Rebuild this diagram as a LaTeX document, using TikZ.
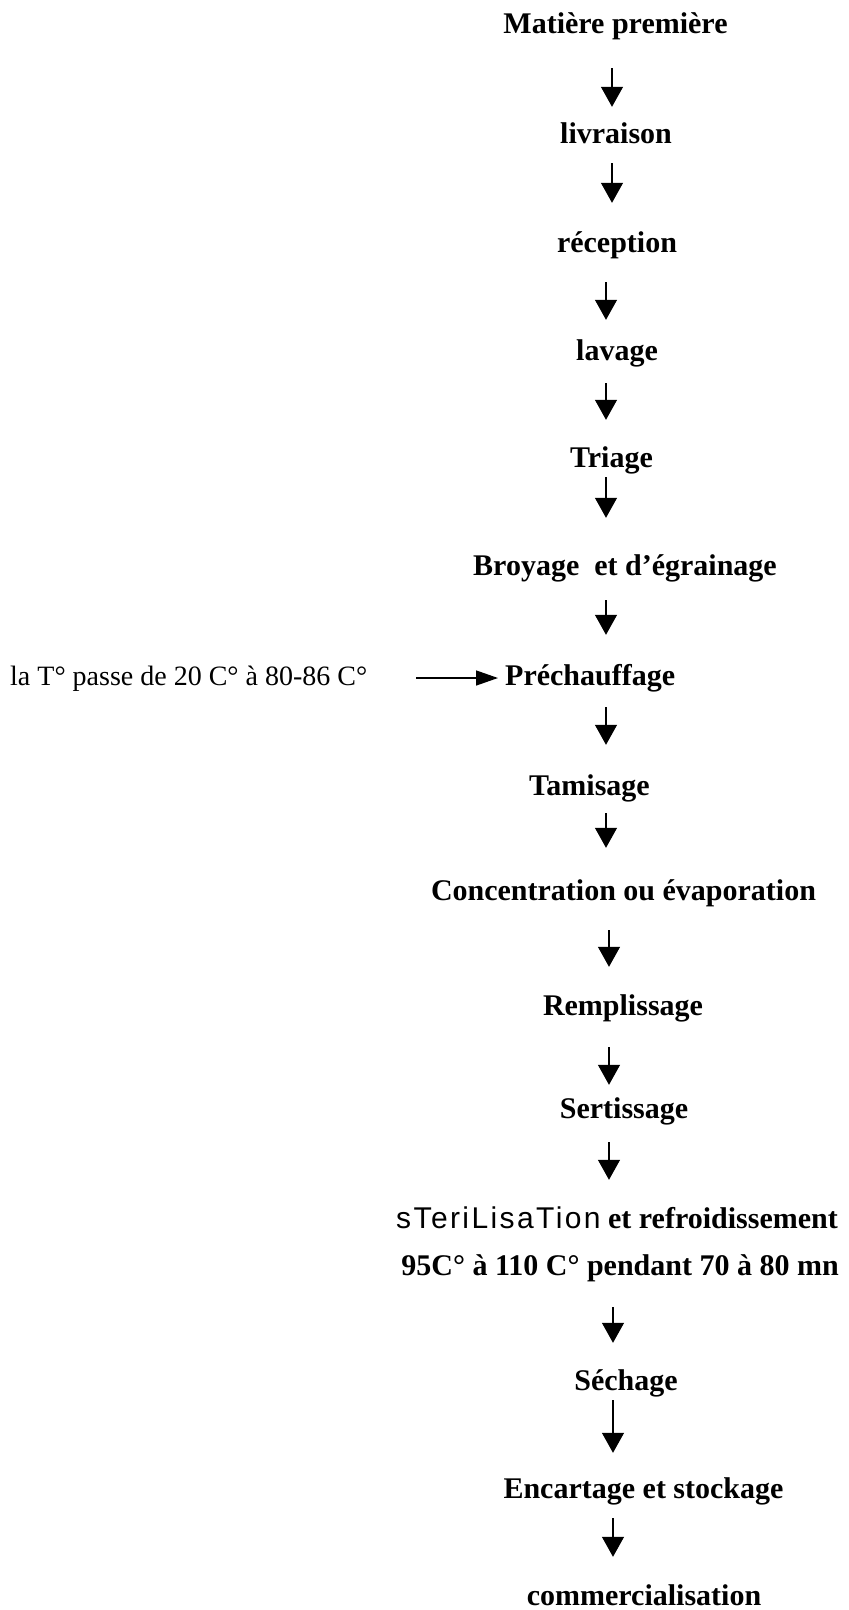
\documentclass[tikz,border=0pt]{standalone}
\usepackage{fontspec}
\setmainfont{Liberation Serif}
\newfontfamily\handfont[LetterSpace=8]{Liberation Sans}
\usetikzlibrary{arrows.meta}
\tikzset{
  stage/.style={anchor=base, inner sep=0pt, text height=22pt, text depth=7pt,
    font=\fontsize{30}{36}\selectfont\bfseries},
  note/.style={anchor=base west, inner sep=0pt, text height=22pt, text depth=7pt,
    font=\fontsize{28}{34}\selectfont},
  flow/.style={-{Triangle[width=22pt,length=20pt]}, line width=1.2pt},
  side/.style={-{Triangle[width=15pt,length=22pt]}, line width=1.4pt},
}
\begin{document}
\begin{tikzpicture}[x=1pt,y=-1pt]
\useasboundingbox (0,0) rectangle (849,1610);
% axes of the vertical arrows
\coordinate (xa) at (612,0);
\coordinate (xb) at (606,0);
\coordinate (xc) at (609,0);
\coordinate (xd) at (613,0);
% stages
\node[stage] (n1) at (615.5,33) {Matière première};
\node[stage] (n2) at (616,143) {livraison};
\node[stage] (n3) at (617,252) {réception};
\node[stage] (n4) at (617,360) {lavage};
\node[stage] (n5) at (611.5,467) {Triage};
\node[stage] (n6) at (625,575) {Broyage\ \ et d’égrainage};
\node[stage, anchor=base west] (n7) at (505,685) {Préchauffage};
\node[note] (t7) at (10,685) {la T° passe de 20 C° à 80-86 C°};
\node[stage] (n8) at (589.5,795) {Tamisage};
\node[stage] (n9) at (623.5,900) {Concentration ou évaporation};
\node[stage] (n10) at (623,1015) {Remplissage};
\node[stage] (n11) at (624,1118) {Sertissage};
\node[stage, anchor=base east] (n12) at (838,1228) {{\handfont\mdseries sTeriLisaTion}\ et refroidissement};
\node[stage, anchor=base east] (n12b) at (839,1275) {95C° à 110 C° pendant 70 à 80 mn};
\node[stage] (n13) at (626,1390) {Séchage};
\node[stage] (n14) at (643.5,1498) {Encartage et stockage};
\node[stage] (n15) at (644,1605) {commercialisation};
% connectors
\draw[flow, shorten <=28pt, shorten >=14pt] (n1.south -| xa) -- (n2.north -| xa);
\draw[flow, shorten <=13pt, shorten >=27pt] (n2.south -| xa) -- (n3.north -| xa);
\draw[flow, shorten <=23pt, shorten >=18pt] (n3.south -| xb) -- (n4.north -| xb);
\draw[flow, shorten <=16pt, shorten >=25pt] (n4.south -| xb) -- (n5.north -| xb);
\draw[flow, shorten <=3pt, shorten >=35pt] (n5.south -| xb) -- (n6.north -| xb);
\draw[flow, shorten <=18pt, shorten >=28pt] (n6.south -| xb) -- (n7.north -| xb);
\draw[flow, shorten <=15pt, shorten >=28pt] (n7.south -| xb) -- (n8.north -| xb);
\draw[flow, shorten <=11pt, shorten >=30pt] (n8.south -| xb) -- (n9.north -| xb);
\draw[flow, shorten <=23pt, shorten >=26pt] (n9.south -| xc) -- (n10.north -| xc);
\draw[flow, shorten <=25pt, shorten >=11pt] (n10.south -| xc) -- (n11.north -| xc);
\draw[flow, shorten <=17pt, shorten >=26pt] (n11.south -| xc) -- (n12.north -| xc);
\draw[flow, shorten <=25pt, shorten >=25pt] (n12b.south -| xd) -- (n13.north -| xd);
\draw[flow, shorten <=3pt, shorten >=23pt] (n13.south -| xd) -- (n14.north -| xd);
\draw[flow, shorten <=13pt, shorten >=26pt] (n14.south -| xd) -- (n15.north -| xd);
\draw[side, shorten <=49pt, shorten >=7pt] (t7.east |- 0,678) -- (n7.west |- 0,678);
\end{tikzpicture}
\end{document}
